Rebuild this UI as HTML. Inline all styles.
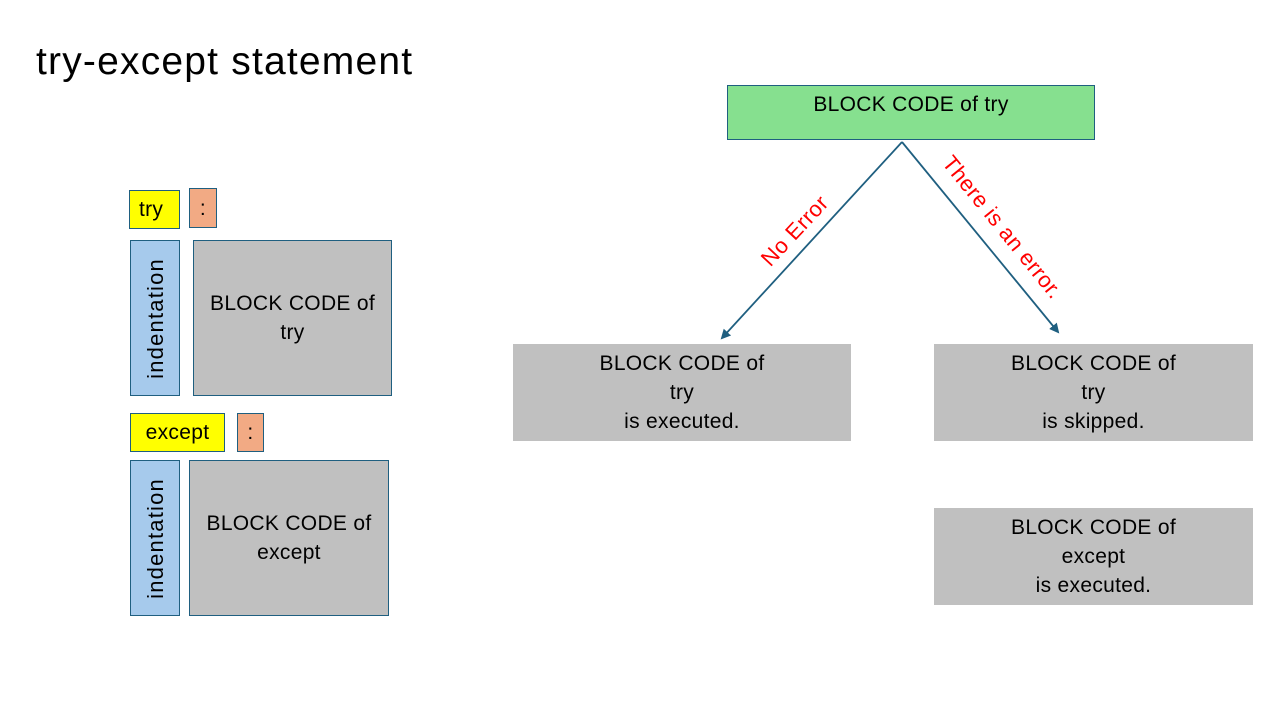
<!DOCTYPE html>
<html><head><style>
body{margin:0;width:1280px;height:720px;background:#fff;position:relative;overflow:hidden;font-family:"Liberation Sans",sans-serif;}
.b{position:absolute;box-sizing:border-box;display:flex;align-items:center;justify-content:center;text-align:center;color:#000;font-size:21px;line-height:29px;letter-spacing:0.3px;}
.o{border:1px solid #1f5f80;}
.y{background:#ffff00;}
.c{background:#f2aa84;}
.g{background:#c0c0c0;}
.bl{background:#a6caec;}
.v{writing-mode:vertical-rl;transform:rotate(180deg);letter-spacing:1.2px;font-size:22px;}
.lbl{position:absolute;color:#ff0000;font-size:22px;white-space:nowrap;transform-origin:center;letter-spacing:0.5px;}
</style></head><body>
<div style="position:absolute;left:36px;top:40px;font-size:39px;letter-spacing:1.2px;color:#000;">try-except statement</div>

<div class="b o y" style="left:129px;top:190px;width:51px;height:39px;justify-content:flex-start;padding-left:9px;">try</div>
<div class="b o c" style="left:189px;top:188px;width:28px;height:40px;">:</div>
<div class="b o bl" style="left:130px;top:240px;width:50px;height:156px;"><span class="v">indentation</span></div>
<div class="b o g" style="left:193px;top:240px;width:199px;height:156px;">BLOCK CODE of<br>try</div>

<div class="b o y" style="left:130px;top:413px;width:95px;height:39px;">except</div>
<div class="b o c" style="left:237px;top:413px;width:27px;height:39px;">:</div>
<div class="b o bl" style="left:130px;top:460px;width:50px;height:156px;"><span class="v">indentation</span></div>
<div class="b o g" style="left:189px;top:460px;width:200px;height:156px;">BLOCK CODE of<br>except</div>

<div class="b o" style="left:727px;top:85px;width:368px;height:55px;background:#86e08f;align-items:flex-start;padding-top:4px;">BLOCK CODE of try</div>

<div class="b g" style="left:513px;top:344px;width:338px;height:97px;">BLOCK CODE of<br>try<br>is executed.</div>
<div class="b g" style="left:934px;top:344px;width:319px;height:97px;">BLOCK CODE of<br>try<br>is skipped.</div>
<div class="b g" style="left:934px;top:508px;width:319px;height:97px;">BLOCK CODE of<br>except<br>is executed.</div>

<svg style="position:absolute;left:0;top:0" width="1280" height="720">
<defs><marker id="a" markerWidth="10" markerHeight="10" refX="8" refY="5" orient="auto" markerUnits="userSpaceOnUse"><path d="M0,0 L10,5 L0,10 z" fill="#1f5f80"/></marker></defs>
<line x1="902" y1="142" x2="722" y2="338" stroke="#1f5f80" stroke-width="1.8" marker-end="url(#a)"/>
<line x1="902" y1="142" x2="1058" y2="332" stroke="#1f5f80" stroke-width="1.8" marker-end="url(#a)"/>
</svg>
<div class="lbl" style="left:735px;top:218px;width:120px;text-align:center;transform:rotate(-47deg);">No Error</div>
<div class="lbl" style="left:917px;top:208px;width:160px;text-align:center;transform:rotate(51deg);">There is an error.</div>
</body></html>
